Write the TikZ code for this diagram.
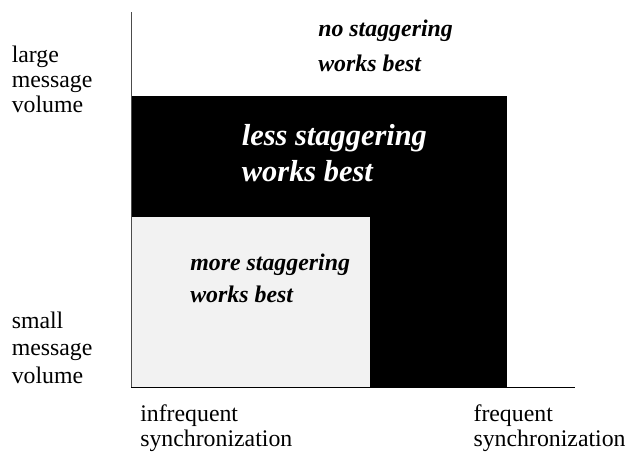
\documentclass[tikz,border=0pt]{standalone}
\usepackage{fontspec}
\setmainfont{Liberation Serif}

\begin{document}
\begin{tikzpicture}[x=0.75pt, y=-0.75pt,
    axislabel/.style={anchor=base west, inner sep=0, align=left},
    regionlabel/.style={anchor=base west, inner sep=0, align=left}]
\useasboundingbox (0,0) rectangle (627,451);

% regions
\fill[black] (131,96) rectangle (507,387);
\fill[black!5] (131,217) rectangle (370,387);

% axes
\draw[line width=0.75pt, black!70] (131,12) -- (131,387);
\draw[line width=0.75pt] (131,387) -- (575,387);

% labels on the axes (placed at the baseline of their last line)
\node[axislabel, font=\fontsize{17.85}{18.9}\selectfont] (large) at (11.5,112.7) {large\\message\\volume};
\node[axislabel, font=\fontsize{17.85}{20.6}\selectfont] (small) at (11.5,383) {small\\message\\volume};
\node[axislabel, font=\fontsize{17.85}{18.75}\selectfont] (infreq) at (140,446) {infrequent\\synchronization};
\node[axislabel, font=\fontsize{17.85}{18.75}\selectfont] (freq) at (473.3,446) {frequent\\synchronization};

% what works best where
\node[regionlabel, font=\fontsize{17.9}{26.25}\selectfont\bfseries\itshape] (nostag) at (318,71.7) {no staggering\\works best};
\node[regionlabel, text=white, font=\fontsize{22.8}{27.5}\selectfont\bfseries\itshape] (lessstag) at (241.7,181.7) {less staggering\\works best};
\node[regionlabel, font=\fontsize{17.9}{24.5}\selectfont\bfseries\itshape] (morestag) at (190,302.7) {more staggering\\works best};

\end{tikzpicture}
\end{document}
